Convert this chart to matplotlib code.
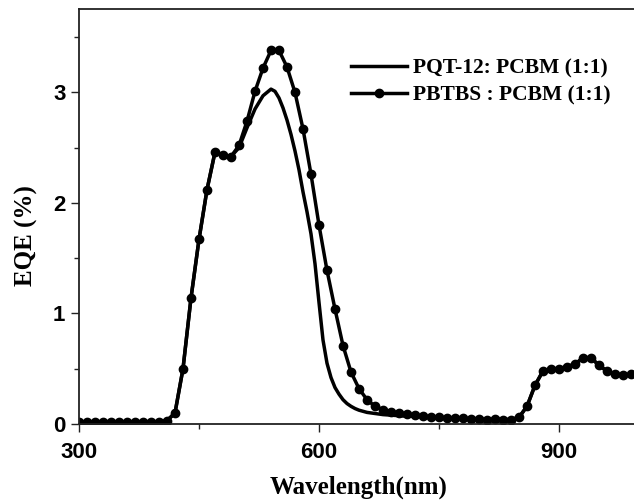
import matplotlib
matplotlib.use("Agg")
import matplotlib.pyplot as plt
from matplotlib.ticker import MultipleLocator

# PBTBS:PCBM, measured every 10 nm (markers)
wavelength = list(range(300, 1001, 10))
eqe_pbtbs = [0.02, 0.02, 0.02, 0.02, 0.02, 0.02, 0.02, 0.02, 0.02, 0.02,
             0.02, 0.03,                                   # 300-410
             0.10, 0.50, 1.14, 1.67, 2.12, 2.46, 2.43, 2.42,  # 420-490
             2.52, 2.74, 3.01, 3.22, 3.38, 3.38, 3.23, 3.00,  # 500-570
             2.67, 2.26, 1.80, 1.39, 1.04, 0.71, 0.47, 0.32,  # 580-650
             0.22, 0.16, 0.13, 0.11, 0.10, 0.09, 0.08, 0.07,  # 660-730
             0.065, 0.06, 0.055, 0.05, 0.05, 0.045, 0.045, 0.04,  # 740-810
             0.045, 0.04, 0.04, 0.06, 0.16, 0.35, 0.48, 0.50,  # 820-890
             0.50, 0.52, 0.54, 0.60, 0.60, 0.53, 0.48, 0.45,  # 900-970
             0.44, 0.45, 0.45]                                # 980-1000

# PQT-12:PCBM, plain line (denser around the peak so the curve stays smooth)
wavelength_pqt = ([300, 310, 320, 330, 340, 350, 360, 370, 380, 390, 400, 410,
                   420, 430, 440, 450, 460, 470, 480, 490, 500, 510, 520, 530, 540]
                  + list(range(545, 671, 5))
                  + list(range(680, 1001, 10)))
eqe_pqt = ([0.02, 0.02, 0.02, 0.02, 0.02, 0.02, 0.02, 0.02, 0.02, 0.02, 0.02, 0.03,
            0.10, 0.50, 1.14, 1.67, 2.12, 2.46, 2.43, 2.42, 2.50, 2.68, 2.85, 2.97, 3.03]
           + [3.01, 2.95, 2.86, 2.75, 2.62, 2.47, 2.30, 2.10, 1.92, 1.72,   # 545-590
              1.45, 1.10, 0.76, 0.55, 0.42, 0.33, 0.27, 0.22, 0.185, 0.16,  # 595-640
              0.14, 0.125, 0.115, 0.105, 0.10, 0.095]                      # 645-670
           + [0.085, 0.08, 0.075, 0.07, 0.07, 0.065,
              0.06, 0.055, 0.05, 0.05, 0.045, 0.045, 0.04, 0.04,
              0.04, 0.04, 0.04, 0.06, 0.16, 0.35, 0.48, 0.50,
              0.50, 0.52, 0.54, 0.60, 0.60, 0.53, 0.48, 0.45,
              0.44, 0.45, 0.45])

labels = ["PQT-12: PCBM (1:1)", "PBTBS : PCBM (1:1)"]

W, H = 634, 501
fig = plt.figure(figsize=(W / 100, H / 100), dpi=100)
# axes box in pixels: left 79, top 9, bottom 424, right edge falls just outside the image
ax = fig.add_axes([79 / W, (H - 424) / H, 560 / W, 415 / H])

ax.plot(wavelength_pqt, eqe_pqt, color="black", lw=2.5, solid_joinstyle="round",
        label=labels[0])
ax.plot(wavelength, eqe_pbtbs, color="black", lw=2.5, marker="o", ms=6,
        solid_joinstyle="round", label=labels[1])

ax.set_xlim(300, 1000)
ax.set_ylim(0, 3.755)
ax.xaxis.set_major_locator(MultipleLocator(300))
ax.xaxis.set_minor_locator(MultipleLocator(150))
ax.yaxis.set_major_locator(MultipleLocator(1))
ax.yaxis.set_minor_locator(MultipleLocator(0.5))

ax.tick_params(which="both", direction="out", width=1.0, color="#222222")
ax.tick_params(which="major", length=5.8)
ax.tick_params(which="minor", length=3.6)
ax.tick_params(axis="x", which="major", pad=7.5)
ax.tick_params(axis="y", which="major", pad=4)
for lab in ax.get_xticklabels() + ax.get_yticklabels():
    lab.set_fontfamily("Liberation Sans")
    lab.set_fontweight("bold")
    lab.set_fontsize(16)

for side in ["left", "bottom", "top"]:
    ax.spines[side].set_linewidth(1.3)
    ax.spines[side].set_color("#222222")
ax.spines["right"].set_visible(False)

serif = {"family": "Liberation Serif", "weight": "bold", "size": 18}
ax.set_xlabel("Wavelength(nm)", fontdict=serif)
ax.set_ylabel("EQE (%)", fontdict=serif)
ax.xaxis.set_label_coords(0.5, (424 - 487) / 415)
ax.xaxis.label.set_verticalalignment("center")
ax.yaxis.set_label_coords((26 - 79) / 560, (424 - 236) / 415)
ax.yaxis.label.set_verticalalignment("center")

leg = ax.legend(loc="center left", bbox_to_anchor=((351 - 79) / 560, (424 - 82) / 415),
                frameon=False, borderpad=0, borderaxespad=0, numpoints=1,
                handlelength=2.6, handletextpad=0.3, labelspacing=0.3,
                prop={"family": "Liberation Serif", "weight": "bold", "size": 15.5})

fig.savefig("out.png", dpi=100)
